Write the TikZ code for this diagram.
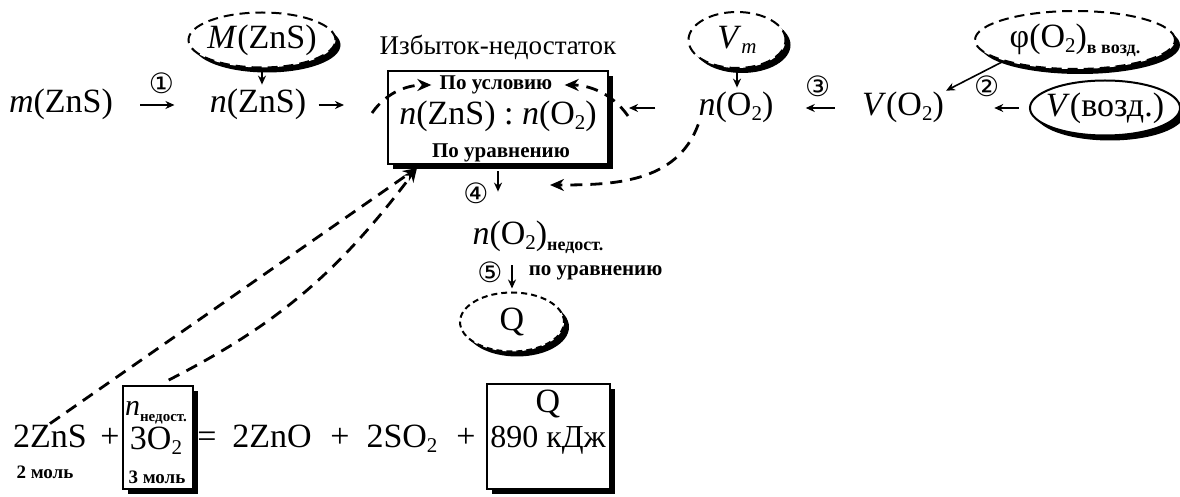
\documentclass[tikz,border=0pt]{standalone}
\usepackage{fontspec}
\setmainfont{Liberation Serif}
\newfontfamily\circfont{DejaVu Sans}
\usetikzlibrary{shapes.geometric,shadows,arrows.meta}

\newcommand{\circnum}[1]{{\circfont\fontsize{14}{14}\selectfont #1}}
\newcommand{\chemsub}[1]{\raisebox{-2.5pt}{\fontsize{10.5}{11}\selectfont #1}}
\newcommand{\smallsub}[1]{\raisebox{-3pt}{\bfseries\fontsize{9}{10}\selectfont #1}}

\begin{document}
\begin{tikzpicture}[x=0.5pt,y=-0.5pt,
  txt/.style={inner sep=0pt, text height=12pt, text depth=4pt, font=\fontsize{17}{20}\selectfont},
  lbl/.style={inner sep=0pt, font=\fontsize{10.5}{12}\selectfont\bfseries},
  blackshadow/.style={drop shadow={shadow xshift=2.5pt, shadow yshift=-2.5pt, fill=black, opacity=1}},
  givenoval/.style={ellipse, draw, line width=1pt, fill=white, inner xsep=-3pt, inner ysep=0pt, blackshadow, font=\fontsize{17}{20}\selectfont},
  dashoval/.style={givenoval, dash pattern=on 5pt off 3pt},
  resbox/.style={rectangle, draw, line width=1pt, fill=white, inner sep=0pt, blackshadow},
  arr/.style={-{Stealth[length=4.5pt,width=4pt]}, line width=0.8pt},
  dasharr/.style={-{Stealth[length=7pt,width=6pt]}, line width=1.4pt, dash pattern=on 6pt off 4pt}]
\useasboundingbox (0,0) rectangle (1180,497);

% top row
\node[txt] (mZnS) at (61,105) {\textit{m}(ZnS)};
\node[txt] (nZnS) at (258,105) {\textit{n}(ZnS)};
\node[dashoval, minimum width=73.5pt, minimum height=27.5pt] (MZnS) at (262,40) {\textit{M}(ZnS)};

\node[font=\fontsize{13.5}{15}\selectfont, inner sep=0pt] (title) at (498,47) {Избыток-недостаток};
\node[resbox, minimum width=110pt, minimum height=46.5pt] (ratiobox) at (498,118) {};
\node[lbl] (usl) at (496,85) {По условию};
\node[txt] (ratio) at (498,117) {\textit{n}(ZnS) : \textit{n}(O\chemsub{2})};
\node[lbl] (urav) at (501,153) {По уравнению};

\node[txt] (nO2) at (736,108) {\textit{n}(O\chemsub{2})};
\node[dashoval, minimum width=48.5pt, minimum height=28pt] (Vm) at (737,40) {\textit{V}\chemsub{\textit{m}}};
\node[txt] (VO2) at (903,108) {\textit{V}(O\chemsub{2})};
\node[dashoval, minimum width=100pt, minimum height=29pt] (phi) at (1075,40) {φ(O\chemsub{2})\smallsub{в возд.}};
\node[givenoval, minimum width=75pt, minimum height=27.5pt] (Vvozd) at (1105,108) {\textit{V}(возд.)};

\draw[arr, shorten <=13.5pt, shorten >=17.5pt] (mZnS) -- node[above=2pt]{\circnum{①}} (nZnS);
\draw[arr, shorten <=6pt, shorten >=21.5pt] (nZnS) -- (nZnS -| ratiobox.west);
\draw[arr, shorten <=21.5pt, shorten >=10pt] (nO2) -- (nO2 -| ratiobox.east);
\draw[arr, shorten <=13.5pt, shorten >=16pt] (VO2) -- node[above=2pt]{\circnum{③}} (nO2);
\draw[arr, shorten <=5pt, shorten >=25pt] (Vvozd) -- node[above=2pt]{\circnum{②}} (VO2);
\draw[arr, shorten <=1pt, shorten >=1pt] (phi.south west) -- (VO2.north east);
\draw[arr, shorten >=2pt] (MZnS) -- (MZnS |- nZnS.north);
\draw[arr, shorten >=2pt] (Vm) -- (Vm |- nO2.north);

% middle
\node[txt] (nO2ned) at (538,237) {\textit{n}(O\chemsub{2})\smallsub{недост.}};
\node[givenoval, densely dashed, minimum width=52pt, minimum height=29.5pt] (Q) at (512,322) {Q};
\draw[arr, shorten <=3pt, shorten >=14.5pt] (ratiobox.south) -- node[left=1pt]{\circnum{④}} (ratiobox.south |- nO2ned.north);
\draw[arr, shorten <=6pt, shorten >=1.5pt] (Q |- nO2ned.south) -- node[left=1pt]{\circnum{⑤}} node[lbl, right=8pt]{по уравнению} (Q.north);

% dashed links
\coordinate (dzs) at (372,113);
\coordinate (dno) at (628,116);
\coordinate (d4) at (550,185);
\coordinate (durav) at (417,168);
\draw[dasharr, shorten >=4pt] (dzs) to[out=55,in=180] (usl.west);
\draw[dasharr, shorten >=6pt] (dno) to[out=125,in=0] (usl.east);
\draw[dasharr] (nO2.south west) to[out=-110,in=0] (d4);

% equation
\node[txt] (eqZnS) at (50,440) {2ZnS};
\node[lbl, font=\fontsize{9.5}{11}\selectfont\bfseries] (molZnS) at (45,472) {2 моль};
\node[txt] (plus1) at (110,440) {+};
\node[resbox, minimum width=35pt, minimum height=51.5pt] (boxO2) at (158,438) {};
\node[txt, font=\fontsize{15}{17}\selectfont] (nned) at (156,408) {\textit{n}\raisebox{-3pt}{\bfseries\fontsize{7.5}{9}\selectfont недост.}};
\node[txt] (O2) at (156,442) {3O\chemsub{2}};
\node[lbl, font=\fontsize{9.5}{11}\selectfont\bfseries] (molO2) at (157,477) {3 моль};
\node[txt] (eqsign) at (207,440) {=};
\node[txt] (ZnO) at (272,440) {2ZnO};
\node[txt] (plus2) at (340,440) {+};
\node[txt] (SO2) at (402,440) {2SO\chemsub{2}};
\node[txt] (plus3) at (466,440) {+};
\node[resbox, minimum width=61.5pt, minimum height=52.5pt] (boxQ) at (548,437) {};
\node[txt] (Qtop) at (548,405) {Q};
\node[txt, font=\fontsize{16}{19}\selectfont] (kJ) at (548,440) {890 кДж};

\draw[dasharr] (eqZnS.north) -- (durav);
\draw[dasharr, shorten <=6pt] (boxO2.north) to[bend right=13] (durav);
\end{tikzpicture}
\end{document}
